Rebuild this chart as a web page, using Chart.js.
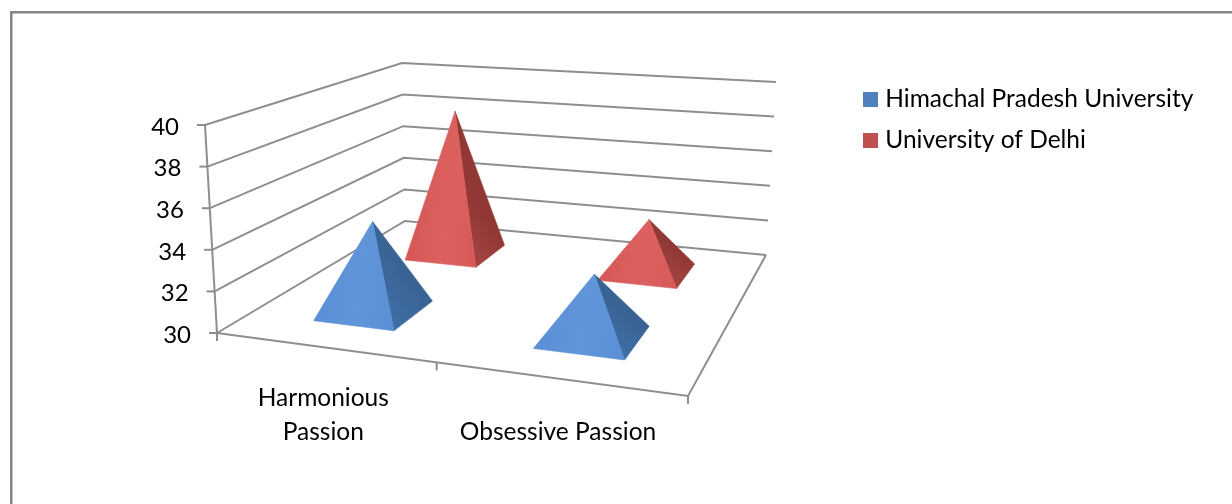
<!DOCTYPE html>
<html>
<head>
<meta charset="utf-8">
<style>
  html, body { margin: 0; padding: 0; background: #fff; }
  #wrap { width: 1232px; height: 504px; }
</style>
<script src="https://cdn.jsdelivr.net/npm/chart.js@4/dist/chart.umd.js"></script>
</head>
<body>
<div id="wrap"><canvas id="chart"></canvas></div>
<script>
const categories = [['Harmonious', 'Passion'], 'Obsessive Passion'];
const seriesNames = ['Himachal Pradesh University', 'University of Delhi'];
const himachalValues = [34.5, 33.0];
const delhiValues = [38.2, 32.9];
const legendColors = ['#4F81BD', '#C0504D'];

const FONT = 'Lato';
const GRID = '#8e8e8e';

// corners of the 3d box on screen: front-left, front-right, back-right, back-left
const floorQuad = [[217, 333], [688, 396], [766, 255], [405, 221]];
const roofQuad = [[205, 125], [698, 160], [776, 82], [402, 63]];

// face shades per series: gradient stops for the front face, then the side face
const frontShades = [['#5a8fd6', '#6095da', '#5a8fd5'], ['#d65755', '#db615f', '#d85a58']];
const sideShades = [['#406fa8', '#386392'], ['#a54543', '#913835']];

const DEPTH_CENTERS = [0.25, 0.75];
const DEPTH_HALF = 0.108;

function quadMap(q) {
    const [[x0, y0], [x1, y1], [x2, y2], [x3, y3]] = q;
    const dx1 = x1 - x2, dy1 = y1 - y2, dx2 = x3 - x2, dy2 = y3 - y2;
    const sx = x0 - x1 + x2 - x3, sy = y0 - y1 + y2 - y3;
    const det = dx1 * dy2 - dx2 * dy1;
    const g = (sx * dy2 - dx2 * sy) / det;
    const h = (dx1 * sy - sx * dy1) / det;
    const a = x1 - x0 + g * x1, b = x3 - x0 + h * x3;
    const d = y1 - y0 + g * y1, e = y3 - y0 + h * y3;
    return (u, v) => {
        const w = g * u + h * v + 1;
        return [(a * u + b * v + x0) / w, (d * u + e * v + y0) / w];
    };
}

const floorAt = quadMap(floorQuad);
const roofAt = quadMap(roofQuad);

// u along categories, v along series depth, w up the value axis (all 0..1)
function project(u, v, w) {
    const p = floorAt(u, v), q = roofAt(u, v);
    return [p[0] + (q[0] - p[0]) * w, p[1] + (q[1] - p[1]) * w];
}

function line(ctx, pts) {
    ctx.beginPath();
    pts.forEach((p, i) => i ? ctx.lineTo(p[0], p[1]) : ctx.moveTo(p[0], p[1]));
    ctx.stroke();
}

function face(ctx, pts, stops, from, to) {
    const grad = ctx.createLinearGradient(from[0], from[1], to[0], to[1]);
    stops.forEach((c, i) => grad.addColorStop(i / (stops.length - 1), c));
    ctx.fillStyle = grad;
    ctx.strokeStyle = grad;
    ctx.lineWidth = 0.6; // closes the hairline seam between faces
    ctx.lineJoin = 'round';
    ctx.beginPath();
    pts.forEach((p, i) => i ? ctx.lineTo(p[0], p[1]) : ctx.moveTo(p[0], p[1]));
    ctx.closePath();
    ctx.fill();
    ctx.stroke();
}

const box3d = {
    id: 'box3d',
    afterLayout(chart) {
        // the legend sits beside the top of the box, above the value axis area
        const lg = chart.legend;
        lg.left = 851.5; lg.right = 1232; lg.top = 70.75; lg.bottom = 200;
    },
    beforeDatasetsDraw(chart) {
        const ctx = chart.ctx;
        const area = chart.chartArea;
        const y = chart.scales.y;
        const wOf = val => (area.bottom - y.getPixelForValue(val)) / (area.bottom - area.top);
        const uOf = px => (px - area.left) / (area.right - area.left);

        // page frame, only top and left were kept
        ctx.fillStyle = '#868686';
        ctx.fillRect(10, 11, 1222, 2.5);
        ctx.fillRect(10, 11, 2.5, 493);

        ctx.save();
        ctx.strokeStyle = GRID;
        ctx.lineWidth = 2;
        y.ticks.forEach(t => {
            const w = wOf(t.value);
            line(ctx, [project(0, 0, w), project(0, 1, w), project(1, 1, w)]);
            const a = project(0, 0, w);
            line(ctx, [[a[0] - 8, a[1]], a]);
        });
        line(ctx, [project(0, 0, 0), project(0, 0, 1)]);
        line(ctx, [project(0, 0, 0), project(1, 0, 0), project(1, 1, 0)]);
        [0, 0.5, 1].forEach(u => {
            const a = project(u, 0, 0);
            line(ctx, [a, [a[0], a[1] + 8]]);
        });
        ctx.restore();

        // value labels follow the slanted axis
        ctx.save();
        ctx.font = '24px ' + FONT;
        ctx.fillStyle = '#000';
        ctx.textAlign = 'right';
        ctx.textBaseline = 'middle';
        y.ticks.forEach(t => {
            const a = project(0, 0, wOf(t.value));
            ctx.fillText(String(t.value), a[0] - 26, a[1] + 2);
        });
        // category labels, bottom lines share one row
        ctx.font = '24.5px ' + FONT;
        ctx.textAlign = 'center';
        const xScale = chart.scales.x;
        categories.forEach((cat, i) => {
            const cx = project(uOf(xScale.getPixelForValue(i)), 0, 0)[0];
            const lines = Array.isArray(cat) ? cat : [cat];
            lines.forEach((txt, k) => {
                ctx.fillText(txt, cx, 432 - (lines.length - 1 - k) * 34);
            });
        });
        ctx.restore();

        // back series first so the front one overlaps it
        ctx.save();
        for (let s = chart.data.datasets.length - 1; s >= 0; s--) {
            const meta = chart.getDatasetMeta(s);
            meta.data.forEach((bar, i) => {
                const uc = uOf(bar.x);
                const hw = bar.width / 2 / (area.right - area.left);
                const vc = DEPTH_CENTERS[s];
                const w = wOf(chart.data.datasets[s].data[i]);
                const fl = project(uc - hw, vc - DEPTH_HALF, 0);
                const fr = project(uc + hw, vc - DEPTH_HALF, 0);
                const br = project(uc + hw, vc + DEPTH_HALF, 0);
                const top = project(uc, vc, w);
                face(ctx, [fr, br, top], sideShades[s], fr, br);
                face(ctx, [fl, fr, top], frontShades[s], fl, fr);
            });
        }
        ctx.restore();
        return false;
    }
};

new Chart(document.getElementById('chart'), {
    type: 'bar',
    data: {
        labels: categories,
        datasets: [
            { label: seriesNames[0], data: himachalValues, backgroundColor: legendColors[0], borderColor: legendColors[0], borderWidth: 10 },
            { label: seriesNames[1], data: delhiValues, backgroundColor: legendColors[1], borderColor: legendColors[1], borderWidth: 10 }
        ]
    },
    options: {
        responsive: true,
        maintainAspectRatio: false,
        animation: false,
        layout: { padding: { left: 217, top: 125, bottom: 171, right: 0 } },
        datasets: { bar: { grouped: false, categoryPercentage: 0.76, barPercentage: 0.5 } },
        scales: {
            x: { display: false },
            y: { display: false, min: 30, max: 40, ticks: { stepSize: 2 } }
        },
        plugins: {
            legend: {
                position: 'right',
                align: 'start',
                labels: {
                    // small box plus a wide border keeps the text close to the square
                    boxWidth: 5,
                    boxHeight: 5,
                    padding: 16.5,
                    color: '#000',
                    font: { family: FONT, size: 24.5 }
                }
            },
            tooltip: { enabled: false }
        }
    },
    plugins: [box3d]
});
</script>
</body>
</html>
